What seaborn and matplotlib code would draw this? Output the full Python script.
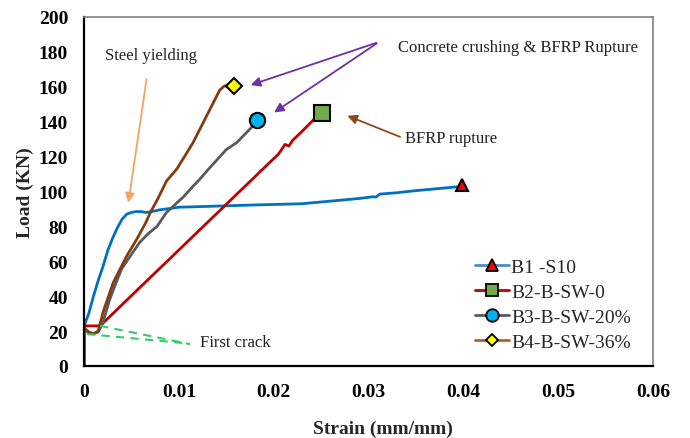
import matplotlib
matplotlib.use("Agg")
import matplotlib.pyplot as plt
from matplotlib.lines import Line2D
import seaborn as sns
import pandas as pd

# ---------------- data ----------------
b1_strain = [0, 0, 0.0005, 0.001, 0.0015, 0.002, 0.0025, 0.003, 0.0035, 0.004, 0.0045,
             0.005, 0.0055, 0.006, 0.0065, 0.007, 0.008, 0.010, 0.012, 0.015, 0.018,
             0.021, 0.023, 0.025, 0.027, 0.029, 0.0305, 0.0308, 0.0312, 0.033, 0.035,
             0.037, 0.039, 0.0402]
b1_load = [0, 23, 30, 40, 49, 57, 66, 73, 79, 84, 87, 88, 88.5, 88.5, 88, 88.3, 89.5,
           91, 91.3, 91.8, 92.3, 92.7, 93, 94, 95, 96, 97, 96.8, 98.5, 99.3, 100.5,
           101.5, 102.5, 103]

b2_strain = [0, 0, 0.0017, 0.003, 0.005, 0.007, 0.009, 0.011, 0.013, 0.015, 0.016,
             0.017, 0.019, 0.0205, 0.0212, 0.0216, 0.022, 0.023, 0.024, 0.0249]
b2_load = [0, 23, 23, 29.8, 40.3, 50.8, 61.2, 71.7, 82.2, 92.6, 97.9, 103.1, 113.6,
           121.4, 127, 126, 129.3, 134.5, 140, 145]

b3_strain = [0, 0, 0.0005, 0.001, 0.0015, 0.002, 0.0027, 0.0034, 0.004, 0.005, 0.0059,
             0.0068, 0.0077, 0.0087, 0.0095, 0.0105, 0.0115, 0.0122, 0.013, 0.014,
             0.015, 0.0161, 0.017, 0.0178]
b3_load = [0, 21, 19, 18.5, 19.5, 25, 38, 48, 56, 64, 71, 76, 80, 88, 92, 97, 103, 107,
           112, 118, 124, 128, 133, 137.5]

b4_strain = [0, 0, 0.0005, 0.001, 0.0015, 0.002, 0.0024, 0.0031, 0.0045, 0.0056,
             0.0065, 0.007, 0.0078, 0.0087, 0.0098, 0.0115, 0.0129, 0.0143, 0.0148, 0.0154]
b4_load = [0, 22, 19.5, 18.5, 20, 30.7, 37, 48, 63, 73, 82, 88, 96, 106, 113, 128, 143,
           158, 160.5, 160]

end_strain = [0.0399, 0.0251, 0.0182, 0.0158]
end_load = [104, 145, 141, 160.5]

labels = ["B1 -S10", "B2-B-SW-0", "B3-B-SW-20%", "B4-B-SW-36%"]

crack1_strain = [0.0017, 0.0112]
crack1_load = [23, 12.5]
crack2_strain = [0.0003, 0.0108]
crack2_load = [18.3, 13]

x_ticks = [0, 0.01, 0.02, 0.03, 0.04, 0.05, 0.06]
x_tick_labels = ["0", "0.01", "0.02", "0.03", "0.04", "0.05", "0.06"]
y_ticks = [0, 20, 40, 60, 80, 100, 120, 140, 160, 180, 200]

# ---------------- style ----------------
line_colors = ["#0070C0", "#C00000", "#595959", "#843C0C"]
legend_line_colors = ["#4A8CC8", "#C00000", "#595959", "#B0602A"]
marker_faces = ["#FF0000", "#70AD47", "#00B0F0", "#FFFF00"]
markers = ["^", "s", "o", "D"]
marker_sizes = [9, 11, 11, 8]
legend_marker_sizes = [8, 9, 9, 6.5]

sns.set_style("white")
plt.rcParams["font.family"] = ["Liberation Serif", "DejaVu Serif"]

fig = plt.figure(figsize=(6.9, 4.39), dpi=100)
ax = fig.add_axes([84 / 690, (439 - 367) / 439, (653 - 84) / 690, (367 - 18) / 439])

series = [(b1_strain, b1_load), (b2_strain, b2_load), (b3_strain, b3_load), (b4_strain, b4_load)]
for i, (s, l) in enumerate(series):
    df = pd.DataFrame({"strain": s, "load": l})
    sns.lineplot(data=df, x="strain", y="load", sort=False, estimator=None,
                 color=line_colors[i], lw=2.0, ax=ax, legend=False)

for i in range(4):
    ax.plot(end_strain[i], end_load[i], marker=markers[i], ms=marker_sizes[i],
            mfc=marker_faces[i], mec="black", mew=1.5, ls="none", zorder=5)

# first crack dashed lines
ax.plot(crack1_strain, crack1_load, ls=(0, (4, 3)), color="#33CC66", lw=1.5)
ax.plot(crack2_strain, crack2_load, ls=(0, (4, 3)), color="#33CC66", lw=1.5)

# annotations
ax.text(0.0122, 14, "First crack", fontsize=12, va="center", ha="left", color="#222222")
ax.text(0.0022, 178, "Steel yielding", fontsize=12, va="center", ha="left", color="#222222")
ax.annotate("", xy=(0.00464, 92), xytext=(0.00664, 166),
            arrowprops=dict(arrowstyle="-|>", color="#F4A460", lw=1.3, mutation_scale=14))
ax.text(0.0331, 183, "Concrete crushing & BFRP Rupture", fontsize=12, va="center",
        ha="left", color="#222222")
ax.annotate("", xy=(0.0173, 160.5), xytext=(0.0311, 185.7),
            arrowprops=dict(arrowstyle="-|>", color="#7030A0", lw=1.3, mutation_scale=14))
ax.annotate("", xy=(0.0198, 144.4), xytext=(0.0311, 185.7),
            arrowprops=dict(arrowstyle="-|>", color="#7030A0", lw=1.3, mutation_scale=14))
ax.text(0.0339, 130.5, "BFRP rupture", fontsize=12, va="center", ha="left", color="#222222")
ax.annotate("", xy=(0.0275, 144), xytext=(0.0336, 130.7),
            arrowprops=dict(arrowstyle="-|>", color="#8B4A1C", lw=1.3, mutation_scale=14))

# axes
ax.set_xlim(0, 0.06)
ax.set_ylim(0, 200)
ax.set_xticks(x_ticks)
ax.set_xticklabels(x_tick_labels)
ax.set_yticks(y_ticks)
ax.tick_params(direction="in", length=5, width=1.3, labelsize=14, colors="black")
for lab in ax.get_xticklabels() + ax.get_yticklabels():
    lab.set_fontweight("bold")
ax.tick_params(axis="y", pad=11.5)
ax.tick_params(axis="x", pad=12)
ax.set_xlabel("Strain (mm/mm)", fontsize=14, fontweight="bold")
ax.set_ylabel("Load (KN)", fontsize=14, fontweight="bold")
ax.xaxis.set_label_coords(0.5255, -0.153)
ax.yaxis.set_label_coords(-0.088, 0.5)

for sp in ["left", "bottom"]:
    ax.spines[sp].set_color("black")
    ax.spines[sp].set_linewidth(1.6)
for sp in ["top", "right"]:
    ax.spines[sp].set_color("#808080")
    ax.spines[sp].set_linewidth(1.2)
ax.grid(False)

handles = [Line2D([0], [0], color=legend_line_colors[i], lw=2, marker=markers[i],
                  ms=legend_marker_sizes[i], mfc=marker_faces[i], mec="black", mew=1.3)
           for i in range(4)]
ax.legend(handles, labels, loc="upper left", bbox_to_anchor=(0.674, 0.332), frameon=False,
          fontsize=14, handlelength=1.75, handletextpad=0.1, labelspacing=0.39,
          borderaxespad=0)

fig.savefig("out.png", dpi=100)
